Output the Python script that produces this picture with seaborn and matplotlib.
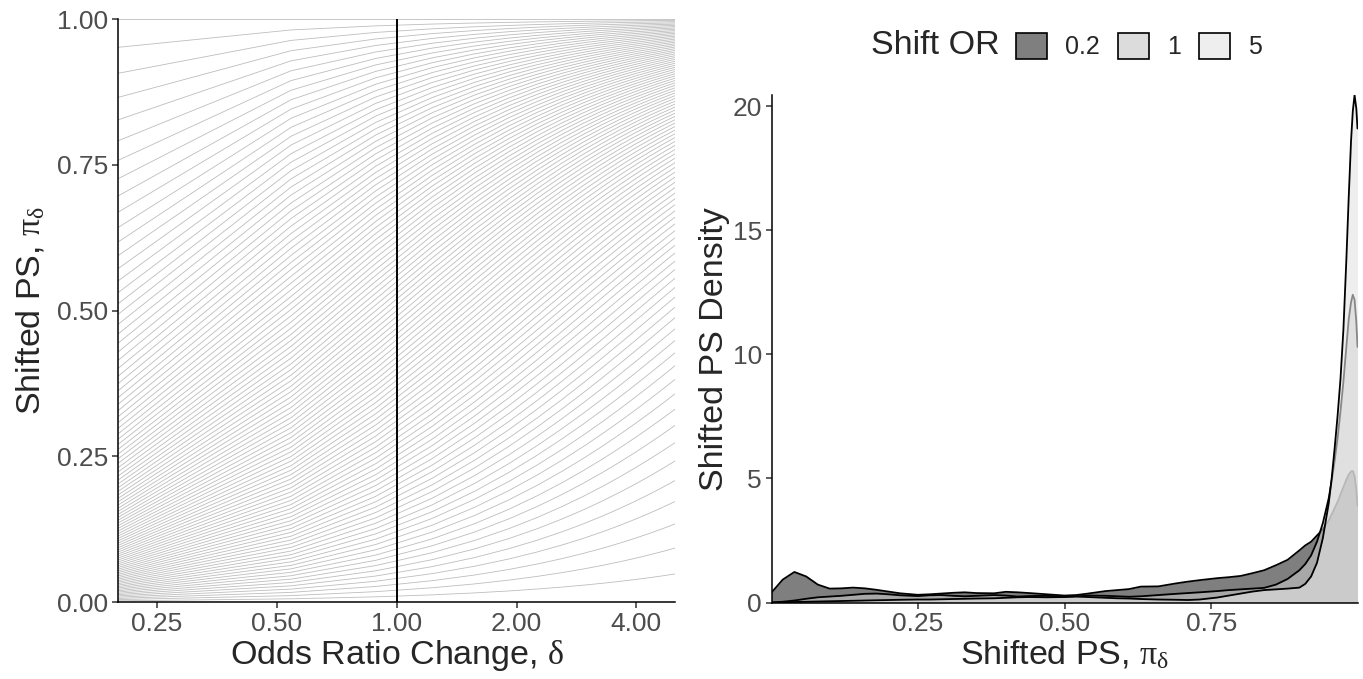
import numpy as np
import pandas as pd
import seaborn as sns
import matplotlib.pyplot as plt
from matplotlib.colors import to_rgba
from matplotlib.patches import Patch
from matplotlib.ticker import FixedLocator, FormatStrFormatter, NullLocator

# left panel: odds-ratio grid and the base propensity scores (one line each)
DELTAS = [0.2, 0.543, 0.886, 1.229, 1.571, 1.914, 2.257, 2.6, 2.943,
          3.286, 3.629, 3.971, 4.314, 4.657, 5.0]
BASE_PS = [
    0.00, 0.01, 0.02, 0.03, 0.04, 0.05, 0.06, 0.07, 0.08, 0.09,
    0.10, 0.11, 0.12, 0.13, 0.14, 0.15, 0.16, 0.17, 0.18, 0.19,
    0.20, 0.21, 0.22, 0.23, 0.24, 0.25, 0.26, 0.27, 0.28, 0.29,
    0.30, 0.31, 0.32, 0.33, 0.34, 0.35, 0.36, 0.37, 0.38, 0.39,
    0.40, 0.41, 0.42, 0.43, 0.44, 0.45, 0.46, 0.47, 0.48, 0.49,
    0.50, 0.51, 0.52, 0.53, 0.54, 0.55, 0.56, 0.57, 0.58, 0.59,
    0.60, 0.61, 0.62, 0.63, 0.64, 0.65, 0.66, 0.67, 0.68, 0.69,
    0.70, 0.71, 0.72, 0.73, 0.74, 0.75, 0.76, 0.77, 0.78, 0.79,
    0.80, 0.81, 0.82, 0.83, 0.84, 0.85, 0.86, 0.87, 0.88, 0.89,
    0.90, 0.91, 0.92, 0.93, 0.94, 0.95, 0.96, 0.97, 0.98, 0.99,
    1.00,
]
DELTA_TICKS = [0.25, 0.5, 1.0, 2.0, 4.0]

# right panel: density curves
SHIFT_OR = ["0.2", "1", "5"]
DENS_X = [0.001, 0.02, 0.04, 0.06, 0.08, 0.10, 0.12, 0.14, 0.16, 0.18,
          0.20, 0.22, 0.25, 0.27, 0.29, 0.31, 0.33, 0.35, 0.38, 0.40,
          0.42, 0.44, 0.47, 0.50, 0.52, 0.54, 0.57, 0.59, 0.61, 0.63,
          0.66, 0.69, 0.71, 0.73, 0.76, 0.78, 0.80, 0.82, 0.84, 0.86,
          0.88, 0.90, 0.91, 0.92, 0.93, 0.94, 0.95, 0.955, 0.96, 0.965,
          0.97, 0.975, 0.98, 0.984, 0.988, 0.991, 0.994, 0.997, 0.999]
DENS_02 = [0.40, 0.92, 1.23, 1.05, 0.72, 0.56, 0.57, 0.60, 0.57, 0.51,
           0.44, 0.37, 0.31, 0.33, 0.36, 0.39, 0.41, 0.38, 0.37, 0.43,
           0.41, 0.38, 0.33, 0.28, 0.30, 0.36, 0.46, 0.50, 0.54, 0.64,
           0.65, 0.77, 0.84, 0.90, 0.98, 1.02, 1.07, 1.18, 1.30, 1.50,
           1.72, 2.10, 2.30, 2.45, 2.70, 2.95, 3.30, 3.55, 3.80, 4.05,
           4.35, 4.65, 4.95, 5.15, 5.28, 5.30, 5.10, 4.55, 3.90]
DENS_1 = [0.00, 0.03, 0.08, 0.15, 0.21, 0.24, 0.27, 0.31, 0.35, 0.36,
          0.33, 0.29, 0.26, 0.29, 0.30, 0.27, 0.25, 0.27, 0.30, 0.28,
          0.24, 0.26, 0.27, 0.23, 0.24, 0.28, 0.27, 0.25, 0.23, 0.25,
          0.30, 0.35, 0.38, 0.41, 0.46, 0.50, 0.53, 0.56, 0.59, 0.72,
          0.95, 1.30, 1.55, 1.90, 2.45, 3.20, 4.20, 4.90, 5.70, 6.60,
          7.70, 8.90, 10.3, 11.4, 12.1, 12.4, 12.2, 11.3, 10.3]
DENS_5 = [0.00, 0.01, 0.02, 0.03, 0.04, 0.05, 0.06, 0.07, 0.08, 0.09,
          0.10, 0.11, 0.12, 0.12, 0.13, 0.14, 0.15, 0.16, 0.17, 0.19,
          0.21, 0.22, 0.21, 0.22, 0.24, 0.22, 0.19, 0.17, 0.16, 0.14,
          0.12, 0.11, 0.10, 0.12, 0.20, 0.28, 0.36, 0.44, 0.50, 0.53,
          0.56, 0.60, 0.75, 1.05, 1.60, 2.60, 4.00, 5.00, 6.20, 7.50,
          9.00, 11.0, 13.8, 16.3, 18.6, 19.8, 20.45, 19.9, 19.1]
FILLS = ["#2a2a2a", "#c5c5c5", "#e3e3e3"]
ALPHA = 0.6

sns.set_style("ticks")
plt.rcParams["font.family"] = ["Liberation Sans", "DejaVu Sans"]
plt.rcParams["mathtext.fontset"] = "custom"
plt.rcParams["mathtext.rm"] = "Liberation Serif"
plt.rcParams["mathtext.it"] = "Liberation Serif"
plt.rcParams["mathtext.default"] = "rm"

W, H = 1363, 679
TITLE_SIZE = 24.5
TICK_SIZE = 19
fig = plt.figure(figsize=(W / 100, H / 100), dpi=100)


def style_axes(ax):
    sns.despine(ax=ax)
    for s in ["left", "bottom"]:
        ax.spines[s].set_linewidth(1.1)
        ax.spines[s].set_color("black")
    ax.tick_params(axis="both", which="major", length=4, width=1.1,
                   color="#333333", labelcolor="#4d4d4d", labelsize=TICK_SIZE, pad=3)


# ---- left panel
ax1 = fig.add_axes([118.3 / W, (H - 602) / H, (675 - 118.3) / W, (602 - 19.3) / H])
rows = []
for p in BASE_PS:
    for d in DELTAS:
        rows.append({"base": p, "delta": d, "shifted": d * p / (1 - p + d * p)})
lines = pd.DataFrame(rows)
sns.lineplot(data=lines, x="delta", y="shifted", units="base", estimator=None,
             color="#bdbdbd", linewidth=0.6, ax=ax1)
ax1.axvline(1.0, color="black", linewidth=1.4)
ax1.set_xscale("log", base=2)
ax1.set_xlim(0.2, 5)
ax1.set_ylim(0, 1)
ax1.xaxis.set_major_locator(FixedLocator(DELTA_TICKS))
ax1.xaxis.set_minor_locator(NullLocator())
ax1.xaxis.set_major_formatter(FormatStrFormatter("%.2f"))
ax1.set_yticks([0, 0.25, 0.5, 0.75, 1.0])
ax1.yaxis.set_major_formatter(FormatStrFormatter("%.2f"))
style_axes(ax1)
ax1.set_xlabel(r"Odds Ratio Change, $\delta$", fontsize=TITLE_SIZE)
ax1.set_ylabel(r"Shifted PS, $\pi_\delta$", fontsize=TITLE_SIZE)
ax1.xaxis.set_label_coords(0.5, -0.062)
ax1.yaxis.set_label_coords(-0.128, 0.5)

# ---- right panel
ax2 = fig.add_axes([771.5 / W, (H - 602.5) / H, (1357.5 - 771.5) / W, (602.5 - 95) / H])
for i, (vals, fill) in enumerate(zip([DENS_02, DENS_1, DENS_5], FILLS)):
    ax2.fill_between(DENS_X, vals, color=fill, alpha=ALPHA, linewidth=0, zorder=1 + 2 * i)
    sns.lineplot(x=DENS_X, y=vals, color="black", linewidth=1.3, sort=False,
                 zorder=2 + 2 * i, ax=ax2)
ax2.set_xlim(DENS_X[0], DENS_X[-1])
ax2.set_ylim(0, 20.45)
ax2.set_xticks([0.25, 0.5, 0.75])
ax2.xaxis.set_major_formatter(FormatStrFormatter("%.2f"))
ax2.set_yticks([0, 5, 10, 15, 20])
style_axes(ax2)
for s in ax2.spines.values():
    s.set_zorder(10)
ax2.set_xlabel(r"Shifted PS, $\pi_\delta$", fontsize=TITLE_SIZE)
ax2.set_ylabel("Shifted PS Density", fontsize=TITLE_SIZE)
ax2.xaxis.set_label_coords(0.5, -0.072)
ax2.yaxis.set_label_coords(-0.071, 0.5)

# legend on top of the right panel
handles = [Patch(facecolor=to_rgba(c, ALPHA), edgecolor="black", linewidth=1.2)
           for c in FILLS]
fig.text(871 / W, 1 - 46 / H, "Shift OR", fontsize=TITLE_SIZE, va="center", ha="left")
fig.legend(handles, SHIFT_OR, loc="center left", bbox_to_anchor=(1016 / W, 1 - 46 / H),
           ncol=3, frameon=False, fontsize=18, handlelength=1.24, handleheight=1.24,
           handletextpad=0.72, columnspacing=0.72, borderpad=0, borderaxespad=0)

fig.savefig("out.png", dpi=100)
